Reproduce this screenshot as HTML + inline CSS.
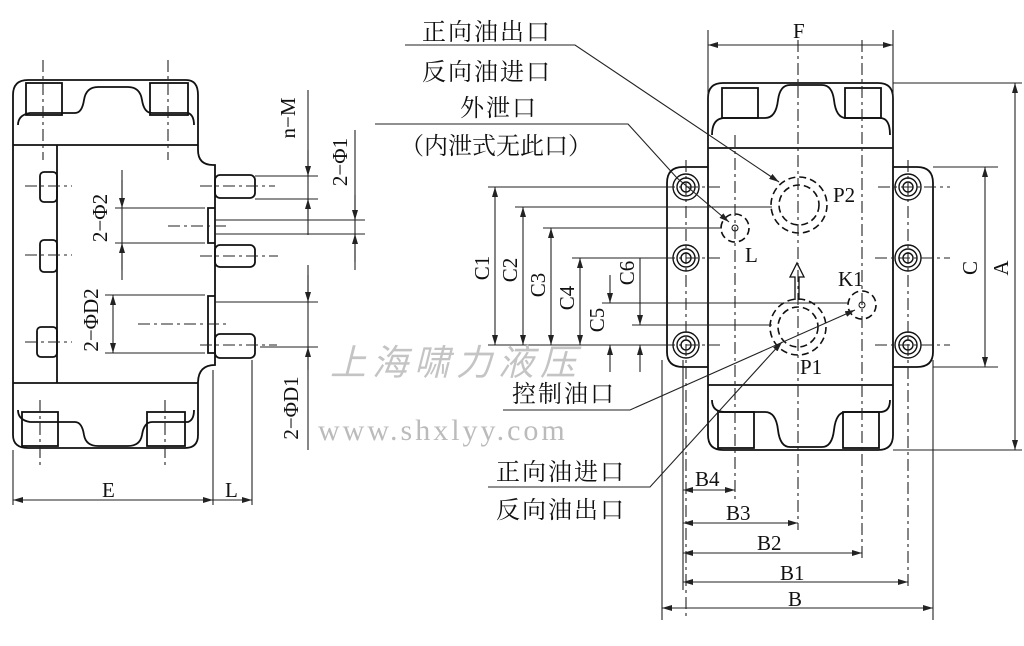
<!DOCTYPE html>
<html><head><meta charset="utf-8"><style>
html,body{margin:0;padding:0;background:#fff;}
svg{display:block;}
text{font-family:"Liberation Serif","Noto Serif CJK SC",serif;fill:#111;}
.cj{font-family:"Liberation Serif","Noto Serif CJK SC",serif;}
</style></head><body>
<svg width="1024" height="646" viewBox="0 0 1024 646" xmlns="http://www.w3.org/2000/svg">
<defs>
<marker id="a" viewBox="0 0 10 6" refX="10" refY="3" markerWidth="10" markerHeight="6" orient="auto-start-reverse" markerUnits="userSpaceOnUse"><path d="M0,0 L10,3 L0,6 z" fill="#222"/></marker>
</defs>
<g stroke="#111" stroke-width="1.8" fill="none">
<path d="M13,95 Q13,80 28,80 L186,80 Q198,80 198,95 L198,150 Q198,165 213,165 L215,165 L215,365 Q198,365 198,383 L198,435 Q198,448 185,448 L28,448 Q13,448 13,435 Z"/>
<line x1="13" y1="145" x2="198" y2="145"/>
<line x1="13" y1="383" x2="198" y2="383"/>
<line x1="57" y1="145" x2="57" y2="383"/>
<path d="M18,125 Q18,115 30,113 L75,113 Q82,113 84,100 Q86,87 98,87 L128,87 Q140,87 142,100 Q144,113 152,113 L188,113 Q194,115 194,125"/>
<rect x="26" y="83" width="36" height="32"/><rect x="150" y="83" width="38" height="32"/>
<path d="M18,410 Q18,420 30,422 L75,422 Q82,422 84,435 Q86,446 98,446 L128,446 Q140,446 142,435 Q144,422 152,422 L188,422 Q194,420 194,410"/>
<rect x="22" y="412" width="36" height="34"/><rect x="147" y="412" width="38" height="34"/>
<rect x="40" y="172" width="17" height="30" rx="4"/><rect x="40" y="240" width="17" height="32" rx="4"/><rect x="37" y="327" width="20" height="30" rx="4"/>
<rect x="215" y="175" width="40" height="23" rx="5"/><rect x="215" y="245" width="40" height="22" rx="5"/><rect x="215" y="334" width="40" height="24" rx="5"/>
<polyline points="215,208 208,208 208,243 215,243"/>
<polyline points="215,296 208,296 208,353 215,353"/>
</g>
<g stroke="#222" stroke-width="1.1" fill="none">
<line x1="308" y1="90" x2="308" y2="235" />
<line x1="355" y1="130" x2="355" y2="270"/>
<line x1="255" y1="176" x2="318" y2="176"/><line x1="255" y1="199" x2="318" y2="199"/>
<line x1="215" y1="220" x2="365" y2="220"/><line x1="215" y1="234" x2="365" y2="234"/>
<line x1="115" y1="208" x2="205" y2="208"/><line x1="115" y1="243" x2="205" y2="243"/>
<line x1="122" y1="170" x2="122" y2="280"/>
<line x1="105" y1="295" x2="205" y2="295"/><line x1="105" y1="353" x2="205" y2="353"/>
<line x1="113" y1="295" x2="113" y2="353" marker-start="url(#a)" marker-end="url(#a)"/>
<line x1="215" y1="302" x2="318" y2="302"/><line x1="260" y1="347" x2="318" y2="347"/>
<line x1="308" y1="265" x2="308" y2="450"/>
<line x1="13" y1="450" x2="13" y2="505"/><line x1="213" y1="370" x2="213" y2="505"/><line x1="252" y1="360" x2="252" y2="505"/>
<line x1="13" y1="500" x2="213" y2="500" marker-start="url(#a)" marker-end="url(#a)"/>
<line x1="213" y1="500" x2="252" y2="500" marker-end="url(#a)"/>
<line x1="308" y1="150" x2="308" y2="176" marker-end="url(#a)"/><line x1="308" y1="218" x2="308" y2="199" marker-end="url(#a)"/>
<line x1="355" y1="195" x2="355" y2="220" marker-end="url(#a)"/><line x1="355" y1="262" x2="355" y2="234" marker-end="url(#a)"/>
<line x1="308" y1="275" x2="308" y2="302" marker-end="url(#a)"/><line x1="308" y1="370" x2="308" y2="347" marker-end="url(#a)"/>
<line x1="122" y1="180" x2="122" y2="208" marker-end="url(#a)"/><line x1="122" y1="270" x2="122" y2="243" marker-end="url(#a)"/>
</g>
<g stroke="#222" stroke-width="1.1" fill="none" stroke-dasharray="12,4,3,4">
<line x1="43" y1="60" x2="43" y2="160"/><line x1="168" y1="60" x2="168" y2="160"/>
<line x1="40" y1="400" x2="40" y2="465"/><line x1="165" y1="400" x2="165" y2="465"/>
<line x1="25" y1="186" x2="72" y2="186"/><line x1="25" y1="255" x2="72" y2="255"/><line x1="25" y1="342" x2="72" y2="342"/>
<line x1="200" y1="186" x2="275" y2="186"/><line x1="200" y1="256" x2="278" y2="256"/><line x1="200" y1="345" x2="277" y2="345"/>
<line x1="168" y1="226" x2="230" y2="226"/><line x1="138" y1="324" x2="230" y2="324"/>
</g>
<g stroke="#111" stroke-width="1.8" fill="none">
<path d="M708,98 Q708,83 723,83 L878,83 Q893,83 893,98 L893,435 Q893,450 878,450 L723,450 Q708,450 708,435 Z"/>
<line x1="708" y1="148" x2="893" y2="148"/><line x1="708" y1="385" x2="893" y2="385"/>
<path d="M712,135 Q712,118 725,118 L765,118 Q776,118 778,100 Q780,85 790,85 L822,85 Q832,85 834,100 Q836,118 846,118 L880,118 Q890,118 890,135"/>
<rect x="722" y="88" width="36" height="30"/><rect x="845" y="88" width="36" height="30"/>
<path d="M712,400 Q712,412 725,412 L765,412 Q776,412 778,430 Q780,447 790,447 L822,447 Q832,447 834,430 Q836,412 846,412 L880,412 Q890,412 890,400"/>
<rect x="718" y="412" width="36" height="36"/><rect x="843" y="412" width="36" height="36"/>
<path d="M708,167 L683,167 Q667,167 667,183 L667,352 Q667,367 683,367 L708,367"/>
<path d="M893,167 L917,167 Q933,167 933,183 L933,352 Q933,367 917,367 L893,367"/>
<g stroke-width="1.4">
<circle cx="686" cy="187" r="13"/><circle cx="686" cy="187" r="9"/><circle cx="686" cy="187" r="5"/>
<circle cx="686" cy="258" r="13"/><circle cx="686" cy="258" r="9"/><circle cx="686" cy="258" r="5"/>
<circle cx="686" cy="345" r="13"/><circle cx="686" cy="345" r="9"/><circle cx="686" cy="345" r="5"/>
<circle cx="908" cy="187" r="13"/><circle cx="908" cy="187" r="9"/><circle cx="908" cy="187" r="5"/>
<circle cx="908" cy="258" r="13"/><circle cx="908" cy="258" r="9"/><circle cx="908" cy="258" r="5"/>
<circle cx="908" cy="345" r="13"/><circle cx="908" cy="345" r="9"/><circle cx="908" cy="345" r="5"/>
</g>
<g stroke-dasharray="7,4" stroke-width="1.6">
<circle cx="799" cy="205" r="28"/><circle cx="799" cy="205" r="20"/>
<circle cx="798" cy="327" r="28"/><circle cx="798" cy="327" r="20"/>
<circle cx="735" cy="228" r="14"/><circle cx="862" cy="305" r="14"/>
</g>
<circle cx="735" cy="228" r="3" stroke-width="1"/><circle cx="862" cy="305" r="3" stroke-width="1"/>
<path d="M795,300 L795,277 L790,277 L797,263 L804,277 L799,277 L799,300" stroke-width="1.3"/>
</g>
<g stroke="#222" stroke-width="1.1" fill="none" stroke-dasharray="12,4,3,4">
<line x1="798" y1="40" x2="798" y2="530"/>
<line x1="735" y1="135" x2="735" y2="500"/><line x1="862" y1="40" x2="862" y2="560"/>
<line x1="686" y1="160" x2="686" y2="620"/><line x1="908" y1="160" x2="908" y2="590"/>
<line x1="640" y1="187" x2="720" y2="187"/><line x1="878" y1="187" x2="950" y2="187"/>
<line x1="640" y1="258" x2="720" y2="258"/><line x1="875" y1="258" x2="950" y2="258"/>
<line x1="640" y1="345" x2="720" y2="345"/><line x1="875" y1="345" x2="950" y2="345"/>
</g>
<g stroke="#222" stroke-width="1.1" fill="none">
<line x1="708" y1="30" x2="708" y2="160"/><line x1="893" y1="30" x2="893" y2="160"/>
<line x1="708" y1="45" x2="893" y2="45" marker-start="url(#a)" marker-end="url(#a)"/>
<line x1="893" y1="83" x2="1022" y2="83"/><line x1="893" y1="450" x2="1022" y2="450"/>
<line x1="933" y1="167" x2="998" y2="167"/><line x1="933" y1="367" x2="998" y2="367"/>
<line x1="1015" y1="83" x2="1015" y2="450" marker-start="url(#a)" marker-end="url(#a)"/>
<line x1="985" y1="167" x2="985" y2="367" marker-start="url(#a)" marker-end="url(#a)"/>
<line x1="488" y1="187" x2="672" y2="187"/><line x1="515" y1="207" x2="772" y2="207"/><line x1="543" y1="228" x2="722" y2="228"/>
<line x1="572" y1="258" x2="672" y2="258"/><line x1="602" y1="303" x2="848" y2="303"/><line x1="632" y1="325" x2="772" y2="325"/>
<line x1="488" y1="345" x2="672" y2="345"/>
<line x1="495" y1="187" x2="495" y2="345" marker-start="url(#a)" marker-end="url(#a)"/>
<line x1="523" y1="207" x2="523" y2="345" marker-start="url(#a)" marker-end="url(#a)"/>
<line x1="551" y1="228" x2="551" y2="345" marker-start="url(#a)" marker-end="url(#a)"/>
<line x1="580" y1="258" x2="580" y2="345" marker-start="url(#a)" marker-end="url(#a)"/>
<line x1="610" y1="275" x2="610" y2="303" marker-end="url(#a)"/><line x1="610" y1="372" x2="610" y2="345" marker-end="url(#a)"/>
<line x1="640" y1="258" x2="640" y2="325" marker-end="url(#a)"/><line x1="640" y1="372" x2="640" y2="345" marker-end="url(#a)"/>
<line x1="683" y1="360" x2="683" y2="590"/><line x1="662" y1="360" x2="662" y2="620"/><line x1="933" y1="360" x2="933" y2="620"/>
<line x1="683" y1="490" x2="735" y2="490" marker-start="url(#a)" marker-end="url(#a)"/>
<line x1="683" y1="523" x2="798" y2="523" marker-start="url(#a)" marker-end="url(#a)"/>
<line x1="683" y1="553" x2="862" y2="553" marker-start="url(#a)" marker-end="url(#a)"/>
<line x1="683" y1="582" x2="908" y2="582" marker-start="url(#a)" marker-end="url(#a)"/>
<line x1="662" y1="608" x2="933" y2="608" marker-start="url(#a)" marker-end="url(#a)"/>
<polyline points="405,45 575,45 779,182" marker-end="url(#a)"/>
<polyline points="375,124 628,124 677,178 729,222" marker-end="url(#a)"/>
<polyline points="503,410 630,410 855,310" marker-end="url(#a)"/>
<polyline points="488,487 650,487 782,342" marker-end="url(#a)"/>
</g>
<text x="330" y="375" font-size="36" style="fill:#c4c4c4;font-style:italic;font-family:'Noto Sans CJK SC',sans-serif" letter-spacing="6">上海啸力液压</text>
<text x="318" y="440" font-size="30" style="fill:#bbb" font-family="Liberation Mono" letter-spacing="3">www.shxlyy.com</text>
<g font-size="24" letter-spacing="2">
<text x="422" y="40" class="cj">正向油出口</text>
<text x="422" y="80" class="cj">反向油进口</text>
<text x="460" y="116" class="cj">外泄口</text>
<text x="400" y="154" class="cj" letter-spacing="0">（内泄式无此口）</text>
<text x="512" y="402" class="cj">控制油口</text>
<text x="496" y="480" class="cj">正向油进口</text>
<text x="496" y="518" class="cj">反向油出口</text>
</g>
<g font-size="21">
<text x="793" y="38">F</text>
<text x="833" y="202">P2</text><text x="745" y="262">L</text>
<text x="838" y="286">K1</text><text x="800" y="374">P1</text>
<text x="102" y="497">E</text><text x="225" y="497">L</text>
<text x="695" y="486">B4</text><text x="726" y="520">B3</text><text x="757" y="550">B2</text>
<text x="780" y="580">B1</text><text x="788" y="606">B</text>
<text transform="translate(977,268) rotate(-90)" text-anchor="middle">C</text>
<text transform="translate(1008,268) rotate(-90)" text-anchor="middle">A</text>
<text transform="translate(489,268) rotate(-90)" text-anchor="middle">C1</text>
<text transform="translate(517,270) rotate(-90)" text-anchor="middle">C2</text>
<text transform="translate(545,285) rotate(-90)" text-anchor="middle">C3</text>
<text transform="translate(574,298) rotate(-90)" text-anchor="middle">C4</text>
<text transform="translate(604,320) rotate(-90)" text-anchor="middle">C5</text>
<text transform="translate(634,273) rotate(-90)" text-anchor="middle">C6</text>
<text transform="translate(295,118) rotate(-90)" text-anchor="middle">n−M</text>
<text transform="translate(347,162) rotate(-90)" text-anchor="middle">2−Φ1</text>
<text transform="translate(107,218) rotate(-90)" text-anchor="middle">2−Φ2</text>
<text transform="translate(98,320) rotate(-90)" text-anchor="middle">2−ΦD2</text>
<text transform="translate(298,408) rotate(-90)" text-anchor="middle">2−ΦD1</text>
</g>
</svg>
</body></html>
